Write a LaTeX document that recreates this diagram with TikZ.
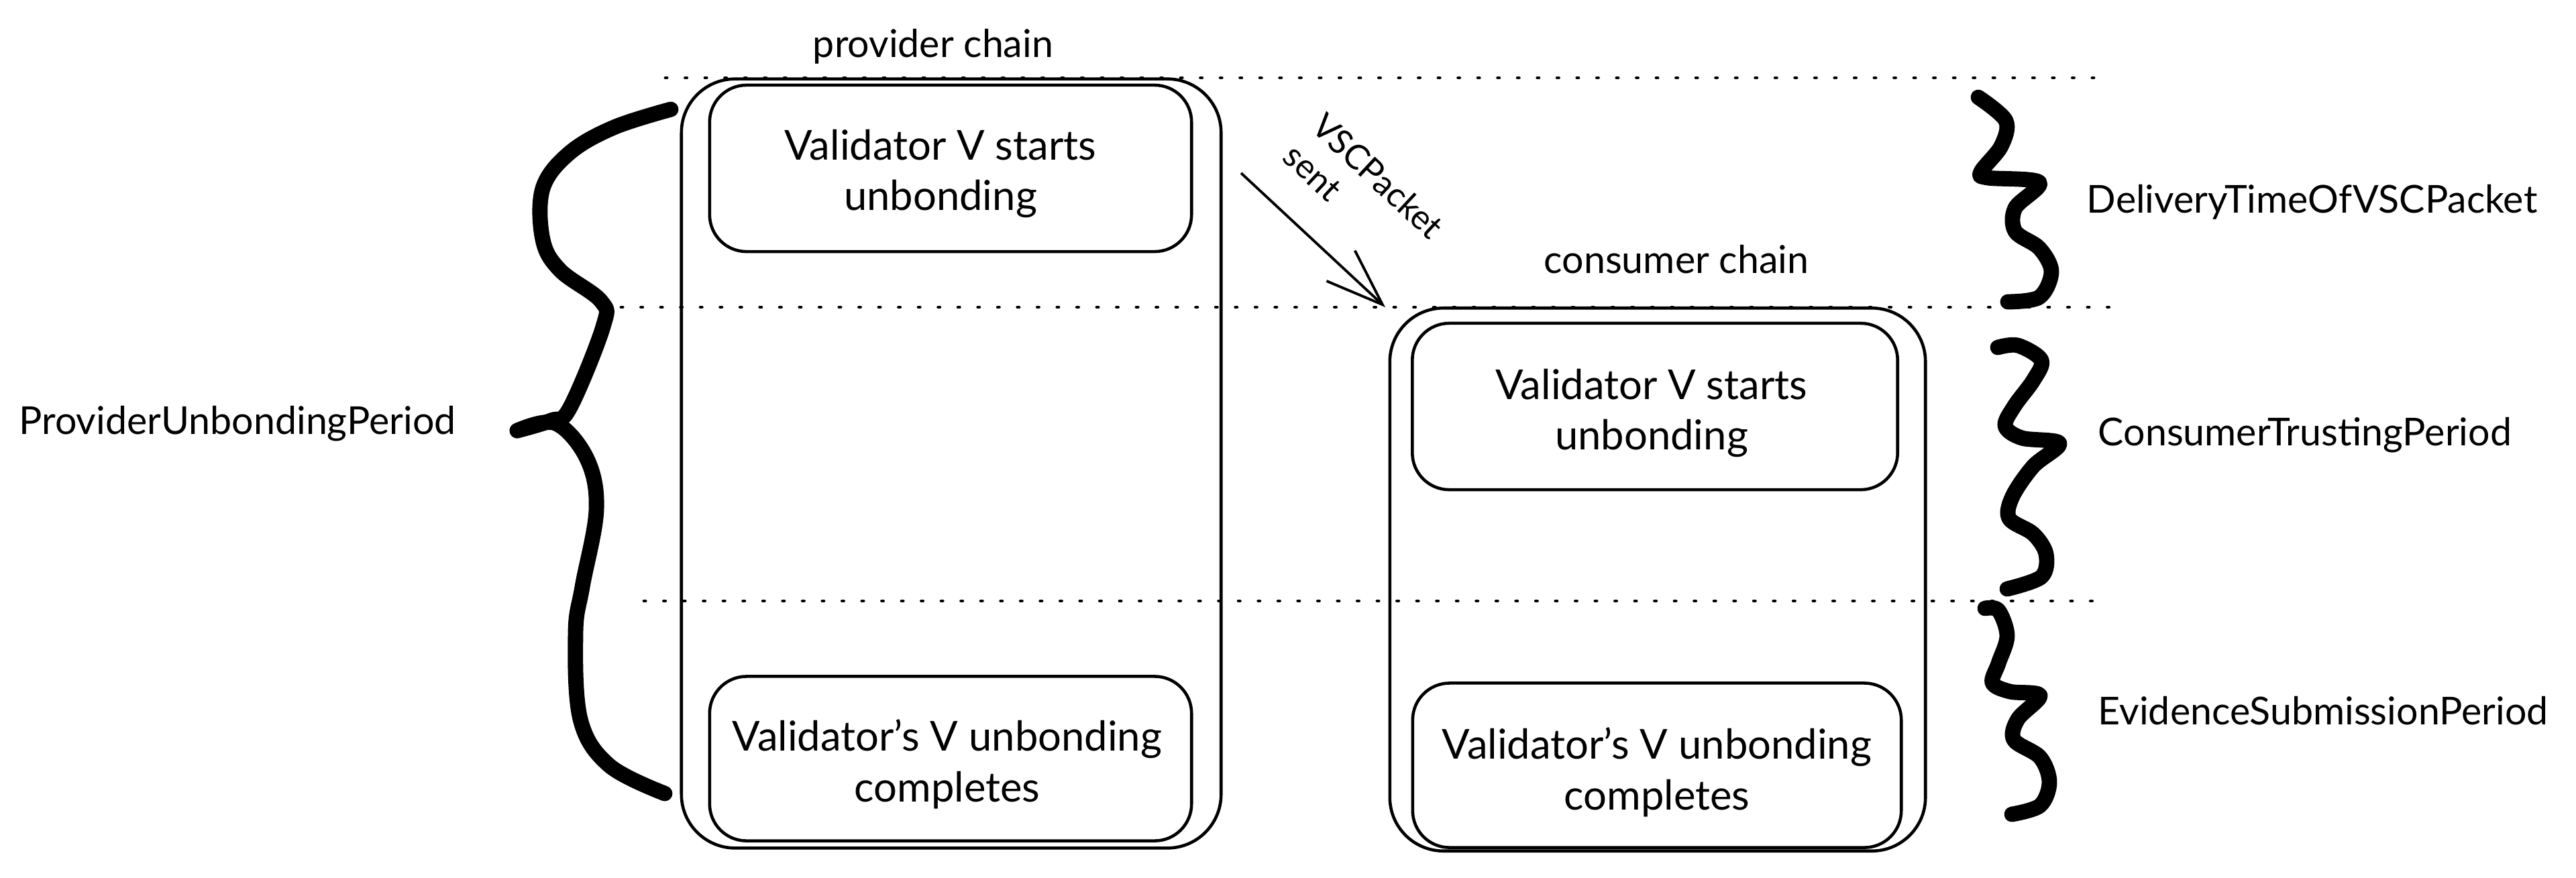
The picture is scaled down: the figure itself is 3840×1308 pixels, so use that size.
\documentclass[tikz,border=0pt]{standalone}
\usepackage{fontspec}
\setmainfont{Lato}
\usetikzlibrary{arrows.meta}
\begin{document}
\begin{tikzpicture}[x=0.01cm, y=-0.01cm,
  outerbox/.style={draw, line width=1.3pt, rounded corners=0.8cm, inner sep=0pt},
  innerbox/.style={draw, line width=1.3pt, rounded corners=0.55cm, inner sep=0pt},
  boxtext/.style={align=center, font=\fontsize{17.5}{21.5}\selectfont, inner sep=0pt},
  guide/.style={line width=1.4pt, line cap=round, dash pattern=on 0.6pt off 7.8pt},
  brace/.style={line width=6.5pt, line cap=round, line join=round},
  lbl/.style={font=\fontsize{16.3}{19}\selectfont, inner sep=0pt},
  msg/.style={line width=1.1pt, -{Straight Barb[length=0.85cm,width=0.62cm]}}
  ]
\useasboundingbox (0,0) rectangle (3840,1308);

% dotted guide lines
\coordinate (g1a) at (992,116);  \coordinate (g1b) at (3147,116);
\coordinate (g2a) at (926,458);  \coordinate (g2b) at (3147,458);
\coordinate (g3a) at (960,896);  \coordinate (g3b) at (3122,896);
\draw[guide] (g1a) -- (g1b);
\draw[guide] (g2a) -- (g2b);
\draw[guide] (g3a) -- (g3b);

% provider chain
\node[outerbox, minimum width=8.04cm, minimum height=11.46cm] (prov) at (1418,691) {};
\node[innerbox, minimum width=7.18cm, minimum height=2.48cm] (pstart) at (1417,251) {};
\node[boxtext] (pstartT) at (1402,259) {Validator V starts\\unbonding};
\node[innerbox, minimum width=7.18cm, minimum height=2.45cm] (pend) at (1417,1131) {};
\node[boxtext] (pendT) at (1412,1139) {Validator's V unbonding\\completes};
\node[lbl] (provlbl) at (1391,69) {provider chain};

% consumer chain
\node[outerbox, minimum width=7.98cm, minimum height=8.09cm] (cons) at (2471,864) {};
\node[innerbox, minimum width=7.23cm, minimum height=2.48cm] (cstart) at (2467,606) {};
\node[boxtext] (cstartT) at (2462,616) {Validator V starts\\unbonding};
\node[innerbox, minimum width=7.28cm, minimum height=2.45cm] (cend) at (2470,1141) {};
\node[boxtext] (cendT) at (2470,1151) {Validator's V unbonding\\completes};
\node[lbl] (conslbl) at (2499,387) {consumer chain};

% VSC packet arrow
\coordinate (vsA) at (1850,258);
\coordinate (vsB) at (2065,458);
\draw[msg] (vsA) -- (vsB);
\node[lbl, font=\fontsize{14.5}{17.6}\selectfont, rotate=-43, align=left] (vsclbl) at (2033,285) {VSCPacket\\sent};

% left brace
\draw[brace] plot[smooth, tension=0.6] coordinates {(1000,163) (915,190) (849,228) (809,281) (809,357) (835,403) (896,449) (899,487) (849,609) (821,627) (771,642)};
\draw[brace] plot[smooth, tension=0.6] coordinates {(771,642) (828,631) (875,684) (889,760) (868,875) (858,943) (865,1072) (908,1141) (991,1183)};
\node[lbl] (pup) at (354,632) {ProviderUnbondingPeriod};

% right braces
\draw[brace] plot[smooth, tension=0.55] coordinates {(2949,145) (2990,180) (2983,218) (2953,256) (2963,265) (3040,272) (3004,310) (3004,345) (3040,370) (3058,405) (3040,443) (2993,450)};
\draw[brace] plot[smooth, tension=0.55] coordinates {(2978,518) (3008,515) (3043,537) (3031,567) (3003,605) (2989,635) (3014,653) (3070,661) (3031,695) (3000,740) (2995,773) (3031,796) (3050,826) (3043,860) (2992,878)};
\draw[brace] plot[smooth, tension=0.55] coordinates {(2959,907) (2979,910) (2992,948) (2979,989) (2970,1018) (2996,1031) (3041,1037) (3008,1072) (3002,1103) (3041,1129) (3055,1166) (3041,1201) (2999,1214)};

\node[lbl, anchor=west] (dtv) at (3110,301) {DeliveryTimeOfVSCPacket};
\node[lbl, anchor=west] (ctp) at (3127,649) {ConsumerTrustingPeriod};
\node[lbl, anchor=west] (esp) at (3127,1060) {EvidenceSubmissionPeriod};
\end{tikzpicture}
\end{document}
